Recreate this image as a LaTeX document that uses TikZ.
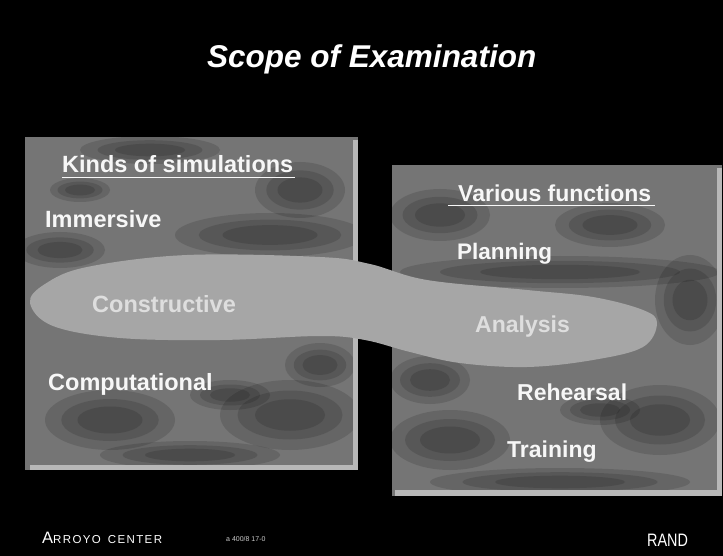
\documentclass[tikz,border=0pt]{standalone}
\usepackage{fontspec}
\setmainfont{Liberation Sans}
\newfontfamily\footfont{Liberation Sans}[LetterSpace=12]
\definecolor{panelgray}{gray}{0.46}
\definecolor{bevelgray}{gray}{0.72}
\definecolor{blobgray}{gray}{0.65}
\definecolor{labelwhite}{gray}{0.97}
\definecolor{dimwhite}{gray}{0.87}
\tikzset{
  lbl/.style={anchor=base west, inner sep=0pt, text=labelwhite, font=\bfseries\fontsize{23.5}{26}\selectfont},
  dimlbl/.style={lbl, text=dimwhite},
  head/.style={lbl},
  uline/.style={draw=labelwhite, line width=1.8pt},
  blotch/.style={fill=black, fill opacity=0.13, draw=none},
  bevel/.style={fill=bevelgray, draw=none},
}
\newcommand{\softblot}[4]{%
  \fill[blotch] (#1,#2) ellipse (#3 and #4);
  \fill[blotch] (#1,#2) ellipse ({0.75*#3} and {0.7*#4});
  \fill[blotch] (#1,#2) ellipse ({0.5*#3} and {0.45*#4});}
\begin{document}
\begin{tikzpicture}[x=1pt,y=-1pt]
\useasboundingbox (0,0) rectangle (723,556);
\fill[black] (0,0) rectangle (723,556);

% left panel
\fill[panelgray] (25,137) rectangle (358,470);
\begin{scope}
\clip (25,137) rectangle (355,465);
\softblot{270}{235}{95}{22}
\softblot{300}{190}{45}{28}
\softblot{150}{150}{70}{14}
\softblot{110}{420}{65}{30}
\softblot{290}{415}{70}{35}
\softblot{320}{365}{35}{22}
\softblot{60}{250}{45}{18}
\softblot{190}{455}{90}{14}
\softblot{230}{395}{40}{15}
\softblot{80}{190}{30}{12}
\end{scope}
\fill[bevel] (353,140) rectangle (358,470);
\fill[bevel] (30,465) rectangle (358,470);

% right panel
\fill[panelgray] (392,165) rectangle (722,496);
\begin{scope}
\clip (392,165) rectangle (717,490);
\softblot{440}{215}{50}{26}
\softblot{610}{225}{55}{22}
\softblot{560}{272}{160}{16}
\softblot{690}{300}{35}{45}
\softblot{450}{440}{60}{30}
\softblot{660}{420}{60}{35}
\softblot{560}{482}{130}{14}
\softblot{430}{380}{40}{24}
\softblot{600}{410}{40}{15}
\end{scope}
\fill[bevel] (717,168) rectangle (722,496);
\fill[bevel] (395,490) rectangle (722,496);

% connecting blob
\fill[blobgray] plot[smooth cycle, tension=0.6] coordinates {
  (30,303) (45,284) (87,267) (187,255) (320,257) (370,264) (427,280)
  (527,290) (593,297) (643,310) (657,323) (643,347) (593,360)
  (527,367) (460,363) (410,352) (365,340) (320,336) (220,340)
  (120,338) (53,326)};

% title
\node[anchor=base west, inner sep=0pt, text=white,
      font=\bfseries\itshape\fontsize{31.5}{34}\selectfont] (title) at (207,68) {Scope of Examination};

% left texts
\node[head] (kinds) at (62,173) {Kinds of simulations};
\coordinate (kul) at (62,177.5);
\coordinate (kur) at (295,177.5);
\draw[uline] (kul) -- (kur);
\node[lbl] (imm) at (45,228) {Immersive};
\node[dimlbl] (cons) at (92,312) {Constructive};
\node[lbl] (comp) at (48,390) {Computational};

% right texts
\node[head, font=\bfseries\fontsize{23}{26}\selectfont] (vari) at (458,202) {Various functions};
\coordinate (vul) at (448,205.5);
\coordinate (vur) at (655,205.5);
\draw[uline] (vul) -- (vur);
\node[lbl, font=\bfseries\fontsize{22.5}{26}\selectfont] (plan) at (457,260) {Planning};
\node[dimlbl, font=\bfseries\fontsize{23}{26}\selectfont] (anal) at (475,332) {Analysis};
\node[lbl, font=\bfseries\fontsize{23}{26}\selectfont] (reh) at (517,400) {Rehearsal};
\node[lbl, font=\bfseries\fontsize{23}{26}\selectfont] (train) at (507,457) {Training};

% footer
\node[anchor=base west, inner sep=0pt, text=white] (arroyo) at (42,543)
  {\footfont\fontsize{16.5}{18}\selectfont A\fontsize{11.5}{13}\selectfont RROYO\hspace{7pt}CENTER};
\node[anchor=base west, inner sep=0pt, text=white!80!black, font=\fontsize{7}{8}\selectfont] (code) at (226,541) {a 400/8 17-0};
\node[anchor=base west, inner sep=0pt, text=white] (rand) at (647,546)
  {\scalebox{0.8}[1]{\fontsize{18}{20}\selectfont RAND}};
\end{tikzpicture}
\end{document}
